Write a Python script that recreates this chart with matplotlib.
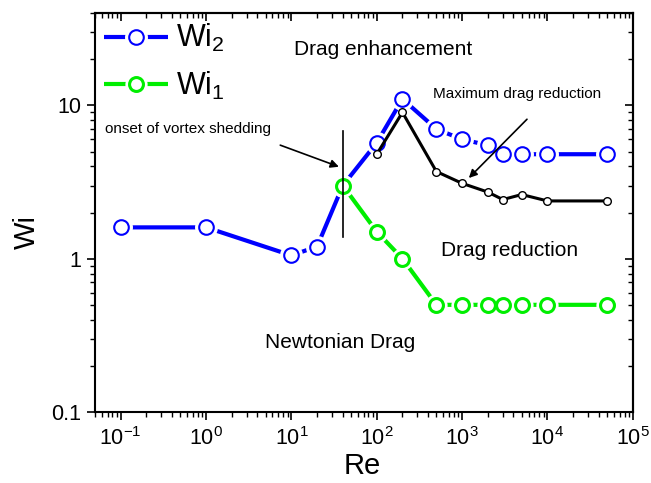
import math
import matplotlib
matplotlib.use('Agg')
import matplotlib.pyplot as plt
from matplotlib.ticker import LogLocator, FuncFormatter, NullFormatter, FixedLocator
from matplotlib.legend_handler import HandlerTuple

plt.rcParams['font.family'] = ['Liberation Sans', 'DejaVu Sans']
plt.rcParams['mathtext.fontset'] = 'custom'
plt.rcParams['mathtext.rm'] = 'Liberation Sans'
plt.rcParams['mathtext.it'] = 'Liberation Sans:italic'
plt.rcParams['mathtext.bf'] = 'Liberation Sans:bold'
plt.rcParams['mathtext.default'] = 'regular'

# data
re_wi2 = [0.1, 1, 10, 20, 40, 100, 200, 500, 1000, 2000, 3000, 5000, 10000, 50000]
wi2 = [1.6, 1.6, 1.05, 1.2, 3.0, 5.7, 11.0, 7.0, 6.0, 5.5, 4.8, 4.8, 4.8, 4.8]

re_wi1 = [40, 100, 200, 500, 1000, 2000, 3000, 5000, 10000, 50000]
wi1 = [3.0, 1.5, 1.0, 0.5, 0.5, 0.5, 0.5, 0.5, 0.5, 0.5]

re_max = [100, 200, 500, 1000, 2000, 3000, 5000, 10000, 50000]
wi_max = [4.8, 9.0, 3.7, 3.1, 2.72, 2.43, 2.62, 2.38, 2.38]

x_major = [0.1, 1, 10, 100, 1000, 10000, 100000]
y_major = [0.1, 1, 10]

blue = '#0000ff'
green = '#00ee00'

fig = plt.figure(figsize=(6.51, 4.83), dpi=100)
ax = fig.add_axes([0.146, 0.147, 0.826, 0.826])
ax.set_xscale('log')
ax.set_yscale('log')


def series(x, y, color, ms, mew, lw, z):
    line, = ax.plot(x, y, '-', color=color, lw=lw, zorder=z, solid_capstyle='butt')
    halo, = ax.plot(x, y, 'o', ls='none', ms=ms + 6, mfc='white', mec='none', zorder=z + 0.1)
    mark, = ax.plot(x, y, 'o', ls='none', ms=ms, mfc='white', mec=color, mew=mew, zorder=z + 0.2)
    return (line, halo, mark)


h2 = series(re_wi2, wi2, blue, 10.5, 1.5, 3, 2)
h1 = series(re_wi1, wi1, green, 10, 2.2, 3, 3)
ax.plot(re_max, wi_max, '-o', color='black', lw=2.2, ms=5.5, mfc='white', mec='black', mew=1, zorder=4)

# onset marker
ax.plot([40, 40], [1.39, 6.8], color='black', lw=1.2, zorder=6)

ax.set_xlim(0.05, 1e5)
ax.set_ylim(0.1, 40)

ax.xaxis.set_major_locator(FixedLocator(x_major))
ax.xaxis.set_minor_locator(LogLocator(base=10, subs=range(2, 10), numticks=20))
ax.xaxis.set_major_formatter(FuncFormatter(lambda v, p: '$10^{%d}$' % round(math.log10(v))))
ax.xaxis.set_minor_formatter(NullFormatter())
ax.yaxis.set_major_locator(FixedLocator(y_major))
ax.yaxis.set_minor_locator(LogLocator(base=10, subs=range(2, 10), numticks=20))
ax.yaxis.set_major_formatter(FuncFormatter(lambda v, p: '%g' % v))
ax.yaxis.set_minor_formatter(NullFormatter())

ax.tick_params(which='major', direction='out', length=6, width=1.2, labelsize=15.5)
ax.tick_params(which='minor', direction='out', length=3.6, width=1.0)
ax.tick_params(axis='x', which='major', pad=5)
ax.tick_params(axis='y', which='major', pad=4)
for s in ax.spines.values():
    s.set_linewidth(1.5)

top = ax.secondary_xaxis('top')
top.xaxis.set_major_locator(FixedLocator(x_major))
top.tick_params(which='major', direction='in', length=6, width=1.2, labeltop=False)
top.tick_params(which='minor', direction='in', length=3.6, width=1.0)
top.xaxis.set_minor_formatter(NullFormatter())
right = ax.secondary_yaxis('right')
right.yaxis.set_major_locator(FixedLocator(y_major))
right.tick_params(which='major', direction='in', length=6, width=1.2, labelright=False)
right.tick_params(which='minor', direction='in', length=3.6, width=1.0)
right.yaxis.set_minor_formatter(NullFormatter())
top.spines['top'].set_linewidth(1.5)
right.spines['right'].set_linewidth(1.5)

ax.set_xlabel('Re', fontsize=21)
ax.set_ylabel('Wi', fontsize=21)
ax.xaxis.set_label_coords(0.496, -0.1)
ax.yaxis.set_label_coords(-0.1, 0.45)

ax.text(119, 23, 'Drag enhancement', fontsize=15, ha='center', va='center')
ax.text(3630, 1.13, 'Drag reduction', fontsize=15, ha='center', va='center')
ax.text(37, 0.285, 'Newtonian Drag', fontsize=15, ha='center', va='center')

ax.annotate('', xy=(38.6, 3.92), xytext=(6.9, 5.58),
            arrowprops=dict(arrowstyle='-|>', color='black', lw=1.2, mutation_scale=12), zorder=7)
ax.text(0.065, 6.98, 'onset of vortex shedding', fontsize=11, ha='left', va='center')

ax.annotate('', xy=(1138, 3.26), xytext=(6070, 8.36),
            arrowprops=dict(arrowstyle='-|>', color='black', lw=1.2, mutation_scale=12), zorder=7)
ax.text(455, 11.8, 'Maximum drag reduction', fontsize=11, ha='left', va='center')

ax.legend([h2, h1], ['Wi$_2$', 'Wi$_1$'], handler_map={tuple: HandlerTuple(ndivide=1, pad=0)},
          loc='upper left', bbox_to_anchor=(0.0, 1.0), frameon=False, fontsize=22,
          handlelength=2.1, handletextpad=0.25, labelspacing=0.5, borderaxespad=0.0,
          borderpad=0.3, numpoints=1)

fig.savefig('out.png', dpi=100)
